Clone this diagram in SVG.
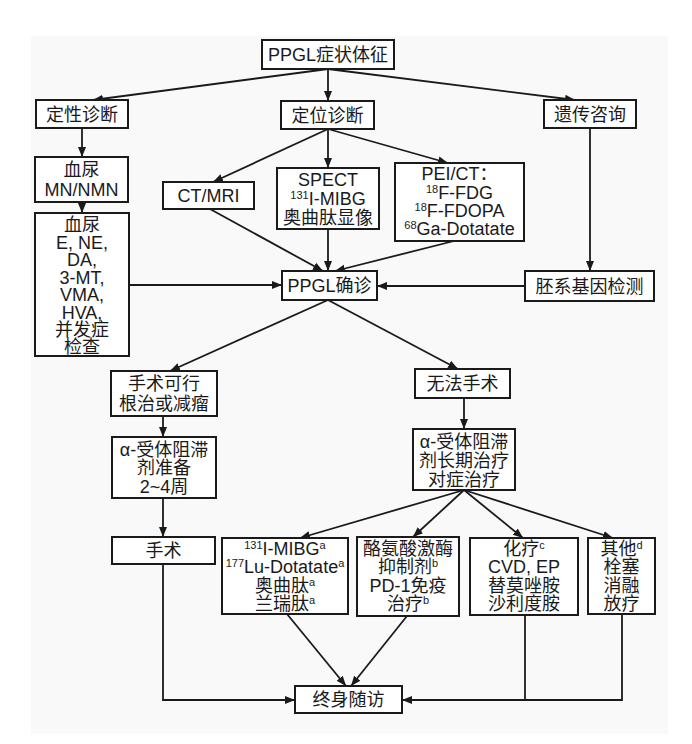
<svg xmlns="http://www.w3.org/2000/svg" width="692" height="744" viewBox="0 0 692 744">
<defs>
<marker id="ah" markerUnits="userSpaceOnUse" markerWidth="10" markerHeight="10" viewBox="0 0 10 10" refX="10" refY="5" orient="auto">
<path d="M0,1 L10,5 L0,9 Z" fill="#1a1a1a"/>
</marker>
<style>
.bx{fill:#fff;stroke:#1a1a1a;stroke-width:2}
.t{font-family:"Liberation Sans","Noto Sans CJK SC",sans-serif;font-size:18px;fill:#1a1a1a;text-anchor:middle}
.s{font-size:11px}
.c{fill:none;stroke:#1a1a1a;stroke-width:1.8}
.a{marker-end:url(#ah)}
</style>
</defs>
<rect x="0" y="0" width="692" height="744" fill="#fff"/>
<rect x="31" y="36" width="637" height="698" fill="#f9f9f9"/>

<g id="connectors">
<line class="c a" x1="328" y1="69" x2="93" y2="100"/>
<line class="c a" x1="328" y1="69" x2="328" y2="101"/>
<line class="c a" x1="328" y1="69" x2="575" y2="100"/>
<line class="c a" x1="82" y1="128" x2="82" y2="157"/>
<line class="c a" x1="82" y1="202" x2="82" y2="213"/>
<line class="c a" x1="328" y1="129" x2="213" y2="182"/>
<line class="c a" x1="328" y1="129" x2="328" y2="168"/>
<line class="c a" x1="328" y1="129" x2="448" y2="163"/>
<line class="c a" x1="210" y1="209" x2="323" y2="271"/>
<line class="c a" x1="328" y1="229" x2="328" y2="271"/>
<line class="c a" x1="454" y1="241" x2="335" y2="271"/>
<line class="c a" x1="129" y1="285" x2="282" y2="285"/>
<line class="c a" x1="590" y1="128" x2="590" y2="271"/>
<line class="c a" x1="525" y1="286" x2="377" y2="286"/>
<line class="c a" x1="328" y1="300" x2="170" y2="371"/>
<line class="c a" x1="328" y1="300" x2="458" y2="369"/>
<line class="c a" x1="163" y1="416" x2="163" y2="437"/>
<line class="c a" x1="464" y1="398" x2="464" y2="429"/>
<line class="c a" x1="163" y1="498" x2="163" y2="537"/>
<line class="c a" x1="464" y1="490" x2="300" y2="538"/>
<line class="c a" x1="464" y1="490" x2="413" y2="537"/>
<line class="c a" x1="464" y1="490" x2="523" y2="538"/>
<line class="c a" x1="464" y1="490" x2="613" y2="538"/>
<polyline class="c a" points="163,564 163,700 295,700"/>
<line class="c a" x1="287" y1="614" x2="346" y2="686"/>
<line class="c a" x1="407" y1="616" x2="351" y2="686"/>
<line class="c" x1="525" y1="615" x2="525" y2="700"/>
<polyline class="c a" points="622,614 622,700 402,700"/>
</g>

<g id="n-ppgl">
<rect class="bx" x="262" y="40" width="132" height="29"/>
<text class="t" x="328" y="61">PPGL症状体征</text>
</g>
<g id="n-dingxing">
<rect class="bx" x="36" y="100" width="92" height="28"/>
<text class="t" x="82" y="121">定性诊断</text>
</g>
<g id="n-dingwei">
<rect class="bx" x="281" y="101" width="93" height="28"/>
<text class="t" x="327.5" y="122">定位诊断</text>
</g>
<g id="n-yichuan">
<rect class="bx" x="544" y="100" width="92" height="28"/>
<text class="t" x="590" y="121">遗传咨询</text>
</g>
<g id="n-mn">
<rect class="bx" x="35" y="157" width="93" height="45"/>
<text class="t" x="81.5" y="176">血尿</text>
<text class="t" x="81.5" y="196">MN/NMN</text>
</g>
<g id="n-xueniao">
<rect class="bx" x="35" y="213" width="94" height="143"/>
<text class="t" x="82" y="231">血尿</text>
<text class="t" x="82" y="249">E, NE,</text>
<text class="t" x="82" y="266">DA,</text>
<text class="t" x="82" y="284">3-MT,</text>
<text class="t" x="82" y="301">VMA,</text>
<text class="t" x="82" y="319">HVA,</text>
<text class="t" x="82" y="336">并发症</text>
<text class="t" x="82" y="353">检查</text>
</g>
<g id="n-ctmri">
<rect class="bx" x="163" y="182" width="91" height="27"/>
<text class="t" x="208.5" y="202">CT/MRI</text>
</g>
<g id="n-spect">
<rect class="bx" x="277" y="168" width="102" height="61"/>
<text class="t" x="328" y="186">SPECT</text>
<text class="t" x="328" y="205"><tspan class="s" dy="-6">131</tspan><tspan dy="6">I-MIBG</tspan></text>
<text class="t" x="328" y="224">奥曲肽显像</text>
</g>
<g id="n-pet">
<rect class="bx" x="395" y="163" width="129" height="78"/>
<text class="t" x="459.5" y="180">PEI/CT：</text>
<text class="t" x="459.5" y="199"><tspan class="s" dy="-6">18</tspan><tspan dy="6">F-FDG</tspan></text>
<text class="t" x="459.5" y="217"><tspan class="s" dy="-6">18</tspan><tspan dy="6">F-FDOPA</tspan></text>
<text class="t" x="459.5" y="235"><tspan class="s" dy="-6">68</tspan><tspan dy="6">Ga-Dotatate</tspan></text>
</g>
<g id="n-queding">
<rect class="bx" x="282" y="271" width="95" height="29"/>
<text class="t" x="329.5" y="292">PPGL确诊</text>
</g>
<g id="n-peixi">
<rect class="bx" x="525" y="271" width="129" height="30"/>
<text class="t" x="589.5" y="293">胚系基因检测</text>
</g>
<g id="n-kexing">
<rect class="bx" x="111" y="371" width="106" height="45"/>
<text class="t" x="164" y="390">手术可行</text>
<text class="t" x="164" y="410">根治或减瘤</text>
</g>
<g id="n-wufa">
<rect class="bx" x="415" y="369" width="95" height="29"/>
<text class="t" x="462.5" y="390">无法手术</text>
</g>
<g id="n-zhunbei">
<rect class="bx" x="112" y="437" width="104" height="61"/>
<text class="t" x="164" y="456">α-受体阻滞</text>
<text class="t" x="164" y="474">剂准备</text>
<text class="t" x="164" y="493">2~4周</text>
</g>
<g id="n-changqi">
<rect class="bx" x="413" y="429" width="102" height="61"/>
<text class="t" x="464" y="448">α-受体阻滞</text>
<text class="t" x="464" y="467">剂长期治疗</text>
<text class="t" x="464" y="486">对症治疗</text>
</g>
<g id="n-shoushu">
<rect class="bx" x="112" y="537" width="103" height="27"/>
<text class="t" x="163.5" y="557">手术</text>
</g>
<g id="n-mibg">
<rect class="bx" x="222" y="538" width="126" height="76"/>
<text class="t" x="285" y="555"><tspan class="s" dy="-6">131</tspan><tspan dy="6">I-MIBG</tspan><tspan class="s" dy="-6">a</tspan></text>
<text class="t" x="285" y="573"><tspan class="s" dy="-6">177</tspan><tspan dy="6">Lu-Dotatate</tspan><tspan class="s" dy="-6">a</tspan></text>
<text class="t" x="285" y="592">奥曲肽<tspan class="s" dy="-6">a</tspan></text>
<text class="t" x="285" y="610">兰瑞肽<tspan class="s" dy="-6">a</tspan></text>
</g>
<g id="n-tki">
<rect class="bx" x="357" y="537" width="102" height="79"/>
<text class="t" x="408" y="555">酪氨酸激酶</text>
<text class="t" x="408" y="573">抑制剂<tspan class="s" dy="-6">b</tspan></text>
<text class="t" x="408" y="592">PD-1免疫</text>
<text class="t" x="408" y="610">治疗<tspan class="s" dy="-6">b</tspan></text>
</g>
<g id="n-hualiao">
<rect class="bx" x="470" y="538" width="108" height="77"/>
<text class="t" x="524" y="555">化疗<tspan class="s" dy="-6">c</tspan></text>
<text class="t" x="524" y="573">CVD, EP</text>
<text class="t" x="524" y="592">替莫唑胺</text>
<text class="t" x="524" y="610">沙利度胺</text>
</g>
<g id="n-qita">
<rect class="bx" x="588" y="538" width="67" height="76"/>
<text class="t" x="621.5" y="555">其他<tspan class="s" dy="-6">d</tspan></text>
<text class="t" x="621.5" y="573">栓塞</text>
<text class="t" x="621.5" y="592">消融</text>
<text class="t" x="621.5" y="610">放疗</text>
</g>
<g id="n-suifang">
<rect class="bx" x="295" y="686" width="107" height="27"/>
<text class="t" x="348.5" y="706">终身随访</text>
</g>
</svg>
